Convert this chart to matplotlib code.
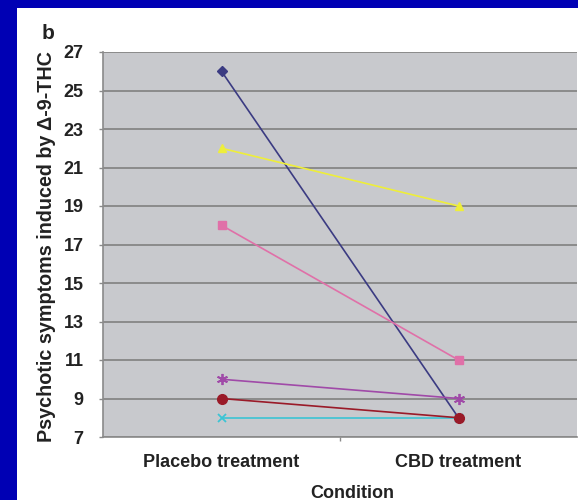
import matplotlib.pyplot as plt
import matplotlib
from matplotlib.patches import Rectangle

plt.rcParams['font.family'] = ['Liberation Sans', 'DejaVu Sans']

condiciones = ["Placebo treatment", "CBD treatment"]
serie_1 = [26, 8]
serie_2 = [22, 19]
serie_3 = [18, 11]
serie_4 = [10, 9]
serie_5 = [9, 8]
serie_6 = [8, 8]
yticks = [7, 9, 11, 13, 15, 17, 19, 21, 23, 25, 27]

W, H = 578, 500
fig = plt.figure(figsize=(W/100.0, H/100.0), dpi=100)
fig.patch.set_facecolor("#0000b4")
# panel blanco
fig.patches.append(Rectangle((17.0/W, 0), 1 - 17.0/W, 1 - 8.0/H, transform=fig.transFigure,
                             facecolor="white", edgecolor="none", zorder=-10))

ax = fig.add_axes([103.0/W, 63.0/H, 474.0/W, 385.0/H])
ax.set_facecolor("#c8c9cd")

x = [0, 1]
ax.plot(x, serie_6, color="#3cc4d4", marker="x", ms=6, mew=1.3, lw=1.2, zorder=3)
ax.plot(x, serie_1, color="#3b3b82", marker="D", ms=5, lw=1.2, zorder=4)
ax.plot(x, serie_2, color="#eeee3a", marker="^", ms=6, lw=1.2, zorder=4)
ax.plot(x, serie_3, color="#e070a8", marker="s", ms=6, lw=1.2, zorder=4)
ax.plot(x, serie_4, color="#a04aa8", marker=(6, 2, 0), ms=8, mew=1.3, lw=1.2, zorder=4)
ax.plot(x, serie_5, color="#9a1a28", marker="o", ms=7, lw=1.2, zorder=5)

ax.set_xlim(-0.5, 1.5)
ax.set_ylim(7, 27)
ax.set_yticks(yticks)
ax.set_xticks(x)
ax.set_xticks([0.5], minor=True)
ax.set_xticklabels(condiciones)
ax.grid(True, axis="y", color="#808080", lw=1.2)
ax.set_axisbelow(True)

for lado in ["top", "right"]:
    ax.spines[lado].set_visible(False)
ax.spines["left"].set_color("#8a8a8a")
ax.spines["bottom"].set_color("#8a8a8a")
ax.spines["left"].set_linewidth(1.2)
ax.spines["bottom"].set_linewidth(1.2)

ax.tick_params(axis="y", length=3, width=1, color="#8a8a8a", pad=11,
               labelsize=13, labelcolor="#222222")
ax.tick_params(axis="x", which="major", length=0, pad=12, labelsize=13, labelcolor="#222222")
ax.tick_params(axis="x", which="minor", length=3, width=1, color="#8a8a8a")
for t in ax.get_yticklabels() + ax.get_xticklabels():
    t.set_fontweight("bold")

fig.text(47.0/W, 1 - 247.0/H, "Psychotic symptoms induced by \u0394-9-THC", rotation=90,
         ha="center", va="center", fontsize=14.2, fontweight="bold", color="#222222")
fig.text(352.0/W, 1 - 493.0/H, "Condition", ha="center", va="center",
         fontsize=13, fontweight="bold", color="#222222")
fig.text(48.0/W, 1 - 33.0/H, "b", ha="center", va="center",
         fontsize=15, fontweight="bold", color="#222222")

plt.savefig("out.png", dpi=100, facecolor=fig.get_facecolor())
